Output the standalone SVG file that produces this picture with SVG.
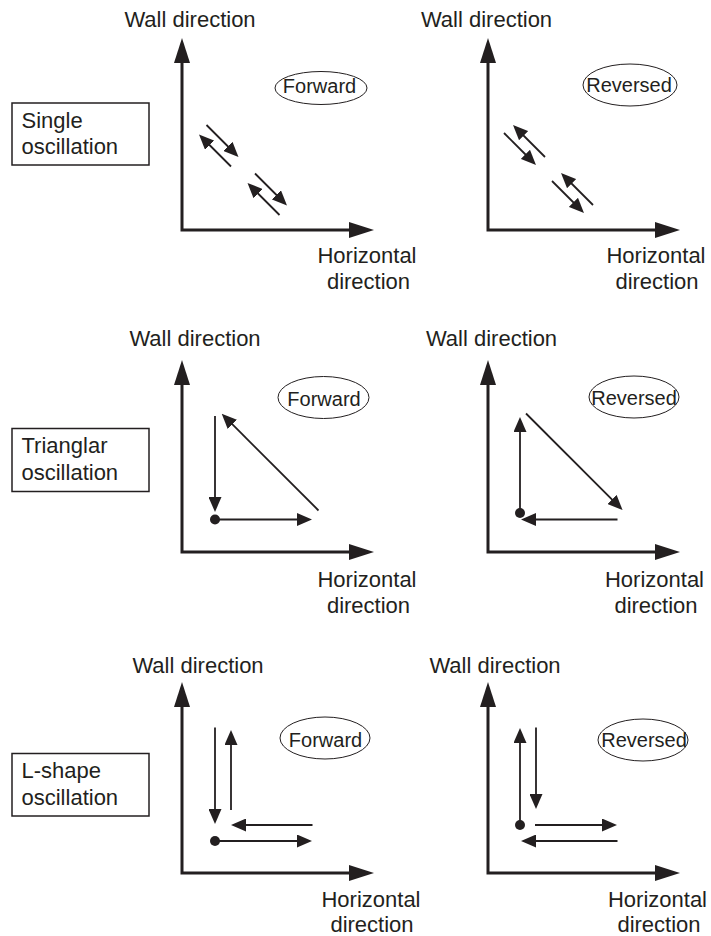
<svg xmlns="http://www.w3.org/2000/svg" width="711" height="936" viewBox="0 0 711 936">
<style>
  text { font-family: "Liberation Sans", Arial, Helvetica, sans-serif; fill: #231f20; }
  .lbl { font-size: 22px; }
  .axl { font-size: 22px; text-anchor: middle; }
  .ovl { font-size: 20px; text-anchor: middle; }
  .box { fill: none; stroke: #231f20; stroke-width: 1.5; }
  .oval { fill: none; stroke: #231f20; stroke-width: 1; }
  .axis { fill: none; stroke: #231f20; stroke-width: 3; stroke-linejoin: miter; marker-start: url(#big); marker-end: url(#big); }
  .mv { fill: none; stroke: #231f20; stroke-width: 1.8; marker-end: url(#small); }
  .dot { fill: #231f20; }
</style>
<defs>
  <marker id="big" markerUnits="userSpaceOnUse" viewBox="0 0 25 16" markerWidth="25" markerHeight="16" refX="4" refY="8" orient="auto-start-reverse">
    <path d="M0,0 L25,8 L0,16 z" fill="#231f20"/>
  </marker>
  <marker id="small" markerUnits="userSpaceOnUse" viewBox="0 0 15 13" markerWidth="15" markerHeight="13" refX="3" refY="6.5" orient="auto">
    <path d="M0,0 L15,6.5 L0,13 z" fill="#231f20"/>
  </marker>
</defs>
<rect width="711" height="936" fill="#ffffff"/>

<!-- Row 1 -->
<g id="label-single">
  <rect class="box" x="12" y="103" width="137" height="62"/>
  <text class="lbl" x="21.5" y="127.5">Single</text>
  <text class="lbl" x="21.5" y="154">oscillation</text>
</g>
<g id="axis-labels-1L">
  <text class="axl" x="190" y="27">Wall direction</text>
  <text class="axl" x="367" y="263">Horizontal</text>
  <text class="axl" x="368.5" y="289">direction</text>
</g>
<g id="axis-labels-1R">
  <text class="axl" x="486.5" y="27">Wall direction</text>
  <text class="axl" x="656" y="263">Horizontal</text>
  <text class="axl" x="657" y="289">direction</text>
</g>
<g id="oval-1F">
  <ellipse class="oval" cx="321" cy="88" rx="46" ry="16.5"/>
  <text class="ovl" x="319.5" y="93">Forward</text>
</g>
<g id="oval-1R">
  <ellipse class="oval" cx="630" cy="85" rx="47" ry="21"/>
  <text class="ovl" x="629" y="92">Reversed</text>
</g>

<!-- Row 2 -->
<g id="label-triangular">
  <rect class="box" x="12" y="428.5" width="137" height="63"/>
  <text class="lbl" x="21.5" y="453">Trianglar</text>
  <text class="lbl" x="21.5" y="480">oscillation</text>
</g>
<g id="axis-labels-2L">
  <text class="axl" x="195" y="346">Wall direction</text>
  <text class="axl" x="367" y="587">Horizontal</text>
  <text class="axl" x="368.5" y="613">direction</text>
</g>
<g id="axis-labels-2R">
  <text class="axl" x="491.5" y="346">Wall direction</text>
  <text class="axl" x="654.5" y="587">Horizontal</text>
  <text class="axl" x="656" y="613">direction</text>
</g>
<g id="oval-2F">
  <ellipse class="oval" cx="323.5" cy="397.5" rx="45.5" ry="21"/>
  <text class="ovl" x="324" y="405.5">Forward</text>
</g>
<g id="oval-2R">
  <ellipse class="oval" cx="634" cy="397" rx="45" ry="21"/>
  <text class="ovl" x="634" y="405">Reversed</text>
</g>

<!-- Row 3 -->
<g id="label-lshape">
  <rect class="box" x="12" y="753.5" width="137" height="62.5"/>
  <text class="lbl" x="21.5" y="778">L-shape</text>
  <text class="lbl" x="21.5" y="804.5">oscillation</text>
</g>
<g id="axis-labels-3L">
  <text class="axl" x="198" y="672.5">Wall direction</text>
  <text class="axl" x="371" y="906.5">Horizontal</text>
  <text class="axl" x="372" y="932">direction</text>
</g>
<g id="axis-labels-3R">
  <text class="axl" x="495" y="673">Wall direction</text>
  <text class="axl" x="657.5" y="906.5">Horizontal</text>
  <text class="axl" x="659" y="932">direction</text>
</g>
<g id="oval-3F">
  <ellipse class="oval" cx="325" cy="738" rx="45" ry="21"/>
  <text class="ovl" x="325.5" y="747">Forward</text>
</g>
<g id="oval-3R">
  <ellipse class="oval" cx="643" cy="740" rx="45" ry="21"/>
  <text class="ovl" x="644" y="746.5">Reversed</text>
</g>

<g id="connectors">
  <!-- axes -->
  <path class="axis" d="M182,59 V230 H353"/>
  <path class="axis" d="M488,59 V230 H659"/>
  <path class="axis" d="M182,381 V552 H353"/>
  <path class="axis" d="M488,381 V552 H659"/>
  <path class="axis" d="M182,703 V873 H353"/>
  <path class="axis" d="M488,703 V873 H659"/>

  <!-- row 1 forward -->
  <path class="mv" d="M206.5,125 L230,148.5"/>
  <path class="mv" d="M231,166.5 L207.5,143"/>
  <path class="mv" d="M255,173.5 L278.5,197"/>
  <path class="mv" d="M279.5,215 L256,191.5"/>
  <!-- row 1 reversed -->
  <path class="mv" d="M504,133 L527.5,156.5"/>
  <path class="mv" d="M545,157 L521.5,133.5"/>
  <path class="mv" d="M552,181 L575.5,204.5"/>
  <path class="mv" d="M593,205 L569.5,181.5"/>

  <!-- row 2 forward -->
  <path class="mv" d="M215,416 V500"/>
  <path class="mv" d="M215,519.5 H300"/>
  <path class="mv" d="M318.5,510.5 L230.2,422.2"/>
  <circle class="dot" cx="215" cy="519.5" r="5"/>
  <!-- row 2 reversed -->
  <path class="mv" d="M520,513 V429"/>
  <path class="mv" d="M617.5,519.5 H533"/>
  <path class="mv" d="M526,413.5 L614.1,501.6"/>
  <circle class="dot" cx="520" cy="513" r="5"/>

  <!-- row 3 forward -->
  <path class="mv" d="M215,727.5 V812"/>
  <path class="mv" d="M231,810 V742"/>
  <path class="mv" d="M312.5,825 H243"/>
  <path class="mv" d="M215,841 H300"/>
  <circle class="dot" cx="215" cy="841" r="5"/>
  <!-- row 3 reversed -->
  <path class="mv" d="M520,825 V740"/>
  <path class="mv" d="M536,727.5 V797"/>
  <path class="mv" d="M535,825 H605"/>
  <path class="mv" d="M617.5,841 H533"/>
  <circle class="dot" cx="520" cy="825" r="5"/>
</g>
</svg>
